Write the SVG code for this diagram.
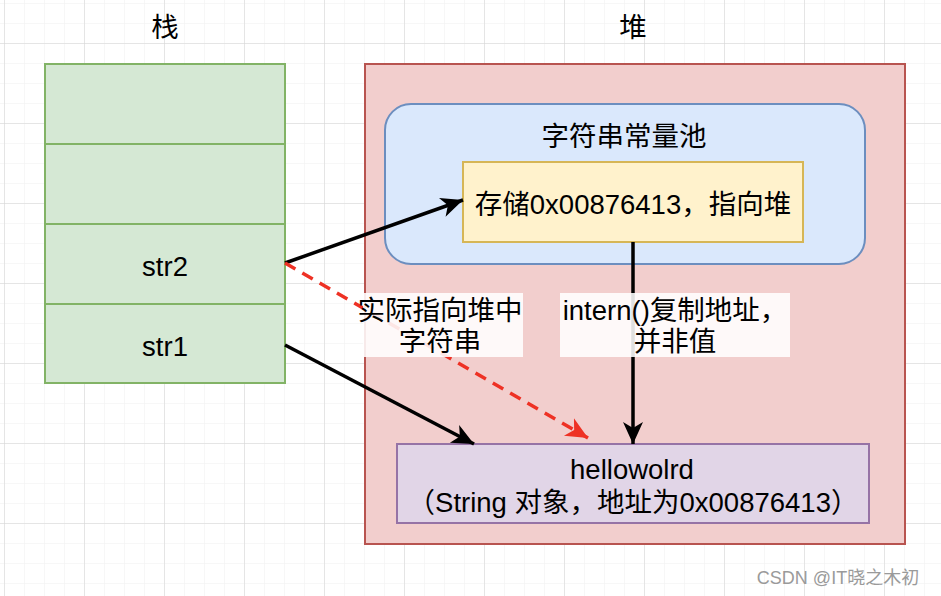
<svg xmlns="http://www.w3.org/2000/svg" width="941" height="596" viewBox="0 0 941 596">
<defs>
<pattern id="minor" x="4" y="3" width="20" height="20" patternUnits="userSpaceOnUse">
<path d="M0,0 H20 M0,0 V20" fill="none" stroke="#efefef" stroke-width="1"/>
</pattern>
<pattern id="major" x="4" y="43" width="80" height="80" patternUnits="userSpaceOnUse">
<path d="M0,0 H80 M0,0 V80" fill="none" stroke="#d4d4d4" stroke-width="1"/>
</pattern>
<marker id="arrB" markerUnits="userSpaceOnUse" markerWidth="24" markerHeight="22" refX="22" refY="11" orient="auto" viewBox="0 0 24 22">
<path d="M0,1 L22,11 L0,21 L6,11 Z" fill="#000"/>
</marker>
<marker id="arrR" markerUnits="userSpaceOnUse" markerWidth="24" markerHeight="22" refX="22" refY="11" orient="auto" viewBox="0 0 24 22">
<path d="M0,1 L22,11 L0,21 L6,11 Z" fill="#ee3124"/>
</marker>
</defs>
<style>
text{font-family:"Liberation Sans","Noto Sans CJK SC",sans-serif;font-size:27.5px;fill:#000;text-anchor:middle}
.stack{fill:#d5e8d4;stroke:#82b366;stroke-width:2}
.conn{fill:none;stroke:#000;stroke-width:3.5}
.lbl{fill:#fff;fill-opacity:0.88}
</style>
<rect width="941" height="596" fill="#fff"/>
<rect width="941" height="596" fill="url(#minor)"/>
<rect width="941" height="596" fill="url(#major)"/>

<g id="title-stack"><text x="165" y="37">栈</text></g>
<g id="title-heap"><text x="633" y="37">堆</text></g>

<g id="stack">
<rect class="stack" x="45" y="64" width="240" height="80"/>
<rect class="stack" x="45" y="144" width="240" height="80"/>
<rect class="stack" x="45" y="224" width="240" height="80"/>
<rect class="stack" x="45" y="304" width="240" height="79"/>
</g>
<g id="str2"><text x="165" y="276">str2</text></g>
<g id="str1"><text x="165" y="356">str1</text></g>

<g id="heap"><rect x="365" y="64" width="540" height="480" fill="#f2cecd" stroke="#b85450" stroke-width="2"/></g>

<g id="pool">
<rect x="385" y="104" width="480" height="160" rx="26" fill="#dae8fc" stroke="#6c8ebf" stroke-width="2"/>
<text x="624" y="146">字符串常量池</text>
</g>

<g id="ref">
<rect x="463" y="162" width="340" height="80" fill="#fff2cc" stroke="#d6b656" stroke-width="2"/>
<text x="633" y="214">存储0x00876413，指向堆</text>
</g>

<g id="obj">
<rect x="397" y="444" width="472" height="79" fill="#e1d5e7" stroke="#9673a6" stroke-width="2"/>
<text x="632" y="479">hellowolrd</text>
<text x="633" y="512">（String 对象，地址为0x00876413）</text>
</g>

<g id="connectors">
<line class="conn" x1="285" y1="263" x2="463" y2="200" marker-end="url(#arrB)"/>
<line class="conn" x1="285" y1="345" x2="474" y2="444" marker-end="url(#arrB)"/>
<line class="conn" x1="633" y1="242" x2="633" y2="444" marker-end="url(#arrB)"/>
<line x1="285" y1="263" x2="588" y2="438" fill="none" stroke="#ee3124" stroke-width="3.5" stroke-dasharray="12 8" marker-end="url(#arrR)"/>
</g>

<g id="label-actual">
<rect class="lbl" x="363" y="293" width="160" height="64"/>
<text x="440" y="320">实际指向堆中</text>
<text x="440" y="351">字符串</text>
</g>
<g id="label-intern">
<rect class="lbl" x="560" y="293" width="230" height="64"/>
<text x="675" y="320">intern()复制地址，</text>
<text x="675" y="351">并非值</text>
</g>

<g id="watermark"><text x="838" y="584" style="font-size:18px;fill:#9a9a9a">CSDN @IT晓之木初</text></g>
</svg>
